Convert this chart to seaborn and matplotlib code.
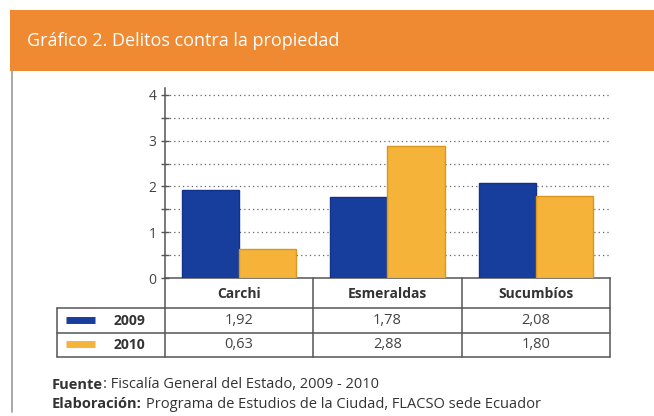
import numpy as np
import pandas as pd
import matplotlib.pyplot as plt
import seaborn as sns
from matplotlib.patches import Rectangle
from matplotlib.lines import Line2D

# data
provincias = ['Carchi', 'Esmeraldas', 'Sucumbíos']
anios = ['2009', '2010']
v2009 = [1.92, 1.78, 2.08]
v2010 = [0.63, 2.88, 1.80]
colores = ['#173e9c', '#f6b33a']
bordes = ['#123288', '#d9971f']

df = pd.DataFrame({
    'provincia': provincias * 2,
    'anio': [anios[0]] * 3 + [anios[1]] * 3,
    'valor': v2009 + v2010,
})

sns.set_style('white')
plt.rcParams['font.family'] = ['Open Sans', 'DejaVu Sans']

W, H = 654, 416
fig = plt.figure(figsize=(W / 100, H / 100), dpi=100)

def fx(px):
    return px / W

def fy(py):
    return 1 - py / H

# orange header band
fig.patches.append(Rectangle((fx(10), fy(71)), fx(654) - fx(10), fy(10) - fy(71),
                             transform=fig.transFigure, facecolor='#f08a32',
                             edgecolor='none', zorder=0))
fig.lines.append(Line2D([fx(12), fx(12)], [fy(71), fy(412)], transform=fig.transFigure,
                        color='#9a9a9a', lw=1.2))
fig.text(fx(27), fy(41), 'Gráfico 2. Delitos contra la propiedad', color='white',
         fontsize=13, va='center', ha='left')

# main chart
x0, x1 = 165, 610
ytop, ybot = 88, 278
ax = fig.add_axes([fx(x0), fy(ybot), fx(x1) - fx(x0), fy(ytop) - fy(ybot)])
sns.barplot(data=df, x='provincia', y='valor', hue='anio', palette=colores,
            width=0.77, gap=0, saturation=1, legend=False, ax=ax, zorder=3)
for i, cont in enumerate(ax.containers):
    for bar in cont:
        bar.set_edgecolor(bordes[i])
        bar.set_linewidth(1)
ax.set_xlim(-0.5, 2.5)
ax.set_ylim(0, 4.15)
ax.set_yticks([0, 1, 2, 3, 4])
ax.set_yticks(np.arange(0.5, 4.01, 0.5), minor=True)
ax.yaxis.grid(True, which='both', linestyle=(0, (1, 2.5)), color='#666666', lw=0.9)
ax.xaxis.grid(False)
ax.set_axisbelow(True)
ax.set_xticks([])
ax.set_xlabel('')
ax.set_ylabel('')
sns.despine(ax=ax, top=True, right=True, bottom=False)
for s in ['left', 'bottom']:
    ax.spines[s].set_color('#555555')
    ax.spines[s].set_linewidth(1.1)
ax.tick_params(axis='y', which='both', direction='inout', length=6, width=1,
               color='#555555', labelsize=10, labelcolor='#444444', pad=3, left=True)
ax.patch.set_alpha(0)

# data table under the chart
ux = (x1 - x0) / 3.0
xl = -0.5 - (x0 - 57) / ux
tax = fig.add_axes([fx(57), fy(357), fx(x1) - fx(57), fy(278) - fy(357)])
tax.set_xlim(xl, 2.5)
tax.set_ylim(357, 278)
tax.axis('off')
lc = '#555555'
for xv in [-0.5, 0.5, 1.5, 2.5]:
    tax.plot([xv, xv], [278, 357], color=lc, lw=1.1, clip_on=False)
tax.plot([xl, xl], [308, 357], color=lc, lw=1.1, clip_on=False)
for yv in [308, 333, 357]:
    tax.plot([xl, 2.5], [yv, yv], color=lc, lw=1.1, clip_on=False)
for i, p in enumerate(provincias):
    tax.text(i, 294, p, ha='center', va='center', fontsize=10, fontweight='bold',
             color='#333333')
for r, (anio, vals) in enumerate(zip(anios, [v2009, v2010])):
    yc = 321 if r == 0 else 345
    for i, v in enumerate(vals):
        tax.text(i, yc, f'{v:.2f}'.replace('.', ','), ha='center', va='center',
                 fontsize=10.5, color='#444444')
    tax.text(-0.5 - 20 / ux, yc, anio, ha='right', va='center', fontsize=10,
             fontweight='bold', color='#333333')
    tax.plot([xl + 9 / ux, xl + 38 / ux], [yc - 1, yc - 1], color=colores[r], lw=5,
             solid_capstyle='butt')

# source lines: bold label followed by normal text
fig.canvas.draw()
renderer = fig.canvas.get_renderer()
for yy, lab, rest in [(385, 'Fuente', ': Fiscalía General del Estado, 2009 - 2010'),
                      (404, 'Elaboración:', 'Programa de Estudios de la Ciudad, FLACSO sede Ecuador')]:
    t = fig.text(fx(52), fy(yy), lab, fontsize=10.5, fontweight='bold', color='#333333',
                 va='center')
    bb = t.get_window_extent(renderer)
    gap = 4 if lab.endswith(':') else 0
    fig.text((bb.x1 + gap) / W, fy(yy), rest, fontsize=10.5, color='#333333', va='center')

fig.savefig('out.png', dpi=100)
